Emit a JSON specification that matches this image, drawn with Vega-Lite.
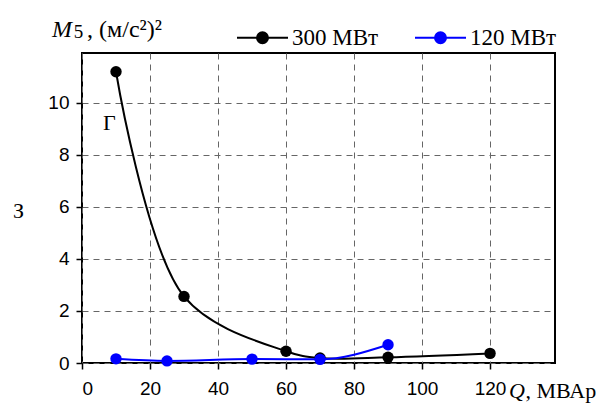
{
  "$schema": "https://vega.github.io/schema/vega-lite/v6.json",
  "width": 473,
  "height": 310,
  "autosize": {"type": "none"},
  "padding": {"left": 82, "top": 53, "right": 59, "bottom": 42},
  "background": "white",
  "config": {
    "view": {"stroke": "black", "strokeWidth": 2},
    "axis": {
      "domain": false,
      "tickColor": "black",
      "tickWidth": 1.5,
      "tickSize": 6,
      "gridColor": "#666666",
      "gridDash": [6, 5],
      "gridWidth": 1,
      "labelFont": "Liberation Sans, Arial, sans-serif",
      "labelFontSize": 19,
      "labelColor": "black"
    }
  },
  "datasets": {
    "series": [
      {"q": 10, "m": 11.2, "s": "300 МВт"},
      {"q": 30, "m": 2.56, "s": "300 МВт"},
      {"q": 60, "m": 0.45, "s": "300 МВт"},
      {"q": 70, "m": 0.19, "s": "300 МВт"},
      {"q": 90, "m": 0.22, "s": "300 МВт"},
      {"q": 120, "m": 0.37, "s": "300 МВт"},
      {"q": 10, "m": 0.16, "s": "120 МВт"},
      {"q": 25, "m": 0.08, "s": "120 МВт"},
      {"q": 50, "m": 0.15, "s": "120 МВт"},
      {"q": 70, "m": 0.14, "s": "120 МВт"},
      {"q": 90, "m": 0.7, "s": "120 МВт"}
    ],
    "gamma": [{"t": "Г", "x": 6.2, "y": 8.95}],
    "italicBig": [{"t": "M", "x": -8.8, "y": 12.53}],
    "italicQ": [{"t": "Q", "x": 125.6, "y": -1.36}],
    "sub": [{"t": "5", "x": -2.4, "y": 12.5}],
    "unitsTop": [{"t": ", (м/с²)²", "x": 1.5, "y": 12.53}],
    "unitsBottom": [{"t": ", МВАр", "x": 130.4, "y": -1.36}]
  },
  "layer": [
    {
      "data": {"name": "series"},
      "transform": [{"filter": "datum.s === '300 МВт'"}],
      "mark": {"type": "line", "interpolate": "catmull-rom", "strokeWidth": 2, "point": {"filled": true, "size": 130, "opacity": 1}},
      "encoding": {
        "x": {
          "field": "q", "type": "quantitative",
          "scale": {"domain": [0, 139.1], "nice": false, "zero": false},
          "axis": {"values": [0, 20, 40, 60, 80, 100, 120], "title": null, "labelPadding": 10}
        },
        "y": {
          "field": "m", "type": "quantitative",
          "scale": {"domain": [0, 11.92], "nice": false, "zero": false},
          "axis": {
            "values": [0, 2, 4, 6, 8, 10],
            "labelPadding": 7,
            "title": "З",
            "titleAngle": 0,
            "titleFont": "Liberation Serif, Times New Roman, serif",
            "titleFontSize": 22,
            "titleFontWeight": "normal",
            "titleColor": "black",
            "titleAlign": "center",
            "titleBaseline": "middle",
            "titleX": -64,
            "titleY": 157
          }
        },
        "color": {
          "field": "s", "type": "nominal",
          "scale": {"domain": ["300 МВт", "120 МВт"], "range": ["black", "blue"]},
          "legend": {
            "title": null,
            "orient": "none",
            "direction": "horizontal",
            "legendX": 154,
            "legendY": -42,
            "padding": 0,
            "symbolType": "M-1,0H1M-0.216,0A0.216,0.216,0,1,0,0.216,0A0.216,0.216,0,1,0,-0.216,0Z",
            "symbolSize": 2601,
            "symbolStrokeWidth": 2,
            "labelFont": "Liberation Serif, Times New Roman, serif",
            "labelFontSize": 23,
            "labelColor": "black",
            "labelOffset": 3,
            "columnPadding": 32,
            "encode": {
              "symbols": {
                "update": {
                  "fill": {"scale": "color", "field": "value"},
                  "stroke": {"scale": "color", "field": "value"},
                  "opacity": {"value": 1}
                }
              }
            }
          }
        }
      }
    },
    {
      "data": {"name": "series"},
      "transform": [{"filter": "datum.s === '120 МВт'"}],
      "mark": {"type": "line", "interpolate": "monotone", "strokeWidth": 2, "point": {"filled": true, "size": 130, "opacity": 1}},
      "encoding": {
        "x": {"field": "q", "type": "quantitative"},
        "y": {"field": "m", "type": "quantitative"},
        "color": {"field": "s", "type": "nominal"}
      }
    },
    {
      "data": {"name": "gamma"},
      "mark": {"type": "text", "font": "Liberation Serif, Times New Roman, serif", "fontSize": 22, "align": "left", "baseline": "alphabetic", "color": "black"},
      "encoding": {"x": {"field": "x", "type": "quantitative"}, "y": {"field": "y", "type": "quantitative"}, "text": {"field": "t"}}
    },
    {
      "data": {"name": "italicBig"},
      "mark": {"type": "text", "font": "Liberation Serif, Times New Roman, serif", "fontSize": 24, "fontStyle": "italic", "align": "left", "baseline": "alphabetic", "color": "black"},
      "encoding": {"x": {"field": "x", "type": "quantitative"}, "y": {"field": "y", "type": "quantitative"}, "text": {"field": "t"}}
    },
    {
      "data": {"name": "italicQ"},
      "mark": {"type": "text", "font": "Liberation Serif, Times New Roman, serif", "fontSize": 22, "fontStyle": "italic", "align": "left", "baseline": "alphabetic", "color": "black"},
      "encoding": {"x": {"field": "x", "type": "quantitative"}, "y": {"field": "y", "type": "quantitative"}, "text": {"field": "t"}}
    },
    {
      "data": {"name": "sub"},
      "mark": {"type": "text", "font": "Liberation Serif, Times New Roman, serif", "fontSize": 19, "align": "left", "baseline": "alphabetic", "color": "black"},
      "encoding": {"x": {"field": "x", "type": "quantitative"}, "y": {"field": "y", "type": "quantitative"}, "text": {"field": "t"}}
    },
    {
      "data": {"name": "unitsTop"},
      "mark": {"type": "text", "font": "Liberation Serif, Times New Roman, serif", "fontSize": 24, "align": "left", "baseline": "alphabetic", "color": "black"},
      "encoding": {"x": {"field": "x", "type": "quantitative"}, "y": {"field": "y", "type": "quantitative"}, "text": {"field": "t"}}
    },
    {
      "data": {"name": "unitsBottom"},
      "mark": {"type": "text", "font": "Liberation Serif, Times New Roman, serif", "fontSize": 22, "align": "left", "baseline": "alphabetic", "color": "black"},
      "encoding": {"x": {"field": "x", "type": "quantitative"}, "y": {"field": "y", "type": "quantitative"}, "text": {"field": "t"}}
    }
  ]
}
